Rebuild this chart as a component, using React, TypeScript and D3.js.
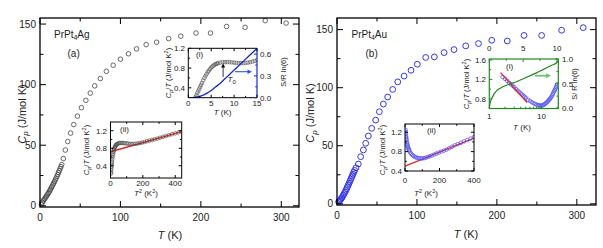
import React from 'react'
import * as d3 from 'd3'

const FONT = 'Liberation Sans, Arial, Helvetica, sans-serif'

// ---- main panel (a): PrPt4Ag, Cp vs T
const agT = [1.8, 3, 4, 5, 6, 7, 8, 9, 10, 11, 12, 13, 14, 15, 16, 17, 18, 19, 20, 21, 22, 23, 24, 25, 26, 27,
  29, 31.5, 34.5, 38, 42, 46.5, 51.5, 57, 62.5, 68, 75, 82.5, 91, 100, 110, 120, 132, 145, 160, 175,
  194, 212, 232, 255, 280, 306]
const agCp = [1.2, 2.8, 4, 5, 6, 7, 8, 9, 10, 11, 12.3, 13.5, 14.8, 16, 17.3, 18.6, 20, 21.4, 22.8, 24.3,
  25.8, 27.4, 29, 30.6, 32.3, 34, 39, 46, 53, 60, 67, 74, 81, 87, 93, 99, 105, 111, 116, 121,
  125.5, 129.5, 133, 135, 138, 140, 142.6, 142.6, 148, 147.3, 152.8, 150.8]

// ---- main panel (b): PrPt4Au, Cp vs T
const auT = [2, 3, 4, 5, 6, 7, 8, 9, 10, 11, 12, 13, 14, 15, 16, 17, 18, 19, 20, 21, 22,
  23.8, 26.7, 29.6, 33, 35.9, 39.2, 43.4, 48.4, 53, 58, 63.4, 69.7, 76, 83.9, 92.6, 100.5,
  111, 121.8, 134, 146.4, 161, 177, 193.6, 213, 234, 256, 281, 308]
const auCp = [1.8, 2.5, 3.3, 4.2, 5.2, 6.3, 7.5, 8.8, 10.1, 11.5, 13, 14.5, 16, 17.6, 19.2, 20.8, 22.4, 24, 25.6, 27.2, 28.8,
  31, 34.3, 40.6, 46.4, 52.1, 58.4, 65, 72.1, 79.3, 85.9, 92, 98.5, 105, 110, 115, 120.2,
  126, 126.5, 130.2, 132.8, 136, 138, 140.8, 140.2, 145, 145, 149.5, 151.7]

// ---- low T, Cp/T (insets)
const agLowT = [1.6, 1.8, 2, 2.2, 2.4, 2.6, 2.8, 3, 3.25, 3.5, 3.75, 4, 4.25, 4.5, 4.75, 5, 5.25, 5.5, 5.75, 6, 6.25, 6.5,
  7, 7.5, 8, 8.5, 9, 9.5, 10, 10.5, 11, 11.5, 12, 12.5, 13, 13.5, 14, 14.5, 15, 15.5, 16, 16.5, 17, 17.5, 18, 18.5, 19, 19.5, 20, 20.5, 21]
const agLowCT = [0.22, 0.25, 0.3, 0.34, 0.38, 0.42, 0.46, 0.5, 0.55, 0.6, 0.64, 0.68, 0.72, 0.75, 0.78, 0.81, 0.83, 0.85, 0.87, 0.88, 0.89, 0.9,
  0.91, 0.92, 0.92, 0.92, 0.92, 0.915, 0.91, 0.905, 0.9, 0.9, 0.9, 0.905, 0.91, 0.92, 0.93, 0.945, 0.96, 0.975, 0.99, 1.005, 1.02, 1.04, 1.06, 1.08, 1.1, 1.12, 1.14, 1.16, 1.18]
const agST = [0, 1, 2, 3, 4, 5, 6, 7, 8, 9, 10, 11, 12, 13, 14, 15]
const agS = [0, 0.002, 0.01, 0.03, 0.06, 0.1, 0.15, 0.2, 0.26, 0.32, 0.38, 0.44, 0.5, 0.56, 0.62, 0.68]
const agFitT2 = [0, 440]
const agFitCT = [0.72, 1.18]

const auLowT = [1.8, 2, 2.2, 2.4, 2.6, 2.8, 3, 3.25, 3.5, 3.75, 4, 4.25, 4.5, 4.75, 5,
  5.5, 6, 6.5, 7, 7.5, 8, 8.5, 9, 9.5, 10, 10.5, 11, 11.5, 12, 12.5, 13, 13.5, 14, 14.5, 15,
  15.5, 16, 16.5, 17, 17.5, 18, 18.5, 19, 19.5, 20]
const auLowCT = [1.25, 1.21, 1.17, 1.13, 1.1, 1.07, 1.04, 1.0, 0.97, 0.94, 0.91, 0.89, 0.86, 0.84, 0.82,
  0.78, 0.755, 0.73, 0.71, 0.695, 0.68, 0.67, 0.665, 0.66, 0.66, 0.665, 0.675, 0.69, 0.705, 0.72, 0.74, 0.76, 0.78, 0.8, 0.82,
  0.84, 0.87, 0.9, 0.93, 0.955, 0.98, 1.01, 1.04, 1.07, 1.1]
const auST = [0, 0.05, 0.1, 0.2, 0.3, 0.5, 0.8, 1.1, 1.5, 2, 3, 4, 5, 6, 7, 8, 9, 10, 10.2]
const auS = [0, 0.05, 0.1, 0.15, 0.19, 0.24, 0.31, 0.36, 0.4, 0.44, 0.49, 0.54, 0.6, 0.66, 0.72, 0.79, 0.86, 0.93, 0.96]
const auFitT = [1.65, 5.3]
const auFitCT = [1.34, 0.72]
const auFitT2 = [0, 400]
const auFitCT2 = [0.5, 1.08]

type Sc = (v: number) => number

function XTicks({ s, major, minor, y, dir, len = 6, mlen = 3.5, color = '#000', w = 1 }:
  { s: Sc; major: number[]; minor: number[]; y: number; dir: number; len?: number; mlen?: number; color?: string; w?: number }) {
  return (
    <g stroke={color} strokeWidth={w}>
      {major.map((v) => <line key={'M' + v} x1={s(v)} x2={s(v)} y1={y} y2={y + dir * len} />)}
      {minor.map((v) => <line key={'m' + v} x1={s(v)} x2={s(v)} y1={y} y2={y + dir * mlen} />)}
    </g>
  )
}

function YTicks({ s, major, minor, x, dir, len = 6, mlen = 3.5, color = '#000', w = 1 }:
  { s: Sc; major: number[]; minor: number[]; x: number; dir: number; len?: number; mlen?: number; color?: string; w?: number }) {
  return (
    <g stroke={color} strokeWidth={w}>
      {major.map((v) => <line key={'M' + v} y1={s(v)} y2={s(v)} x1={x} x2={x + dir * len} />)}
      {minor.map((v) => <line key={'m' + v} y1={s(v)} y2={s(v)} x1={x} x2={x + dir * mlen} />)}
    </g>
  )
}

function XLabels({ s, vals, y, fs, fmt }: { s: Sc; vals: number[]; y: number; fs: number; fmt?: (v: number) => string }) {
  return (
    <g fontSize={fs} fill="#222" textAnchor="middle">
      {vals.map((v) => <text key={v} x={s(v)} y={y}>{fmt ? fmt(v) : String(v)}</text>)}
    </g>
  )
}

function YLabels({ s, vals, x, fs, anchor, fmt }: { s: Sc; vals: number[]; x: number; fs: number; anchor: string; fmt?: (v: number) => string }) {
  return (
    <g fontSize={fs} fill="#222" textAnchor={anchor}>
      {vals.map((v) => <text key={v} x={x} y={s(v) + fs * 0.36}>{fmt ? fmt(v) : String(v)}</text>)}
    </g>
  )
}

const f1 = (v: number) => v.toFixed(1)

function CpLabel({ x, y, fs, text }: { x: number; y: number; fs: number; text: string }) {
  return (
    <text transform={`translate(${x},${y}) rotate(-90)`} textAnchor="middle" fontSize={fs} fill="#222">
      <tspan fontStyle="italic">C</tspan>
      <tspan fontStyle="italic" fontSize={fs * 0.72} dy={fs * 0.25}>p</tspan>
      <tspan dy={-fs * 0.25}>{text}</tspan>
    </text>
  )
}

function Arrow({ x1, y1, x2, y2, color, w, head }: { x1: number; y1: number; x2: number; y2: number; color: string; w: number; head: number }) {
  const a = Math.atan2(y2 - y1, x2 - x1)
  const p1 = [x2 - head * Math.cos(a) + head * 0.5 * Math.sin(a), y2 - head * Math.sin(a) - head * 0.5 * Math.cos(a)]
  const p2 = [x2 - head * Math.cos(a) - head * 0.5 * Math.sin(a), y2 - head * Math.sin(a) + head * 0.5 * Math.cos(a)]
  return (
    <g>
      <line x1={x1} y1={y1} x2={x2 - head * 0.8 * Math.cos(a)} y2={y2 - head * 0.8 * Math.sin(a)} stroke={color} strokeWidth={w} />
      <polygon points={`${x2},${y2} ${p1[0]},${p1[1]} ${p2[0]},${p2[1]}`} fill={color} />
    </g>
  )
}

export default function App() {
  // main scales
  const xA = d3.scaleLinear().domain([0, 322]).range([40, 299])
  const yA = d3.scaleLinear().domain([-1, 155]).range([207, 18])
  const xB = d3.scaleLinear().domain([0, 324]).range([337, 596])
  const yB = d3.scaleLinear().domain([-1, 160]).range([205, 18])

  // inset a(i)
  const xAi = d3.scaleLinear().domain([0, 15]).range([188.3, 257])
  const yAi = d3.scaleLinear().domain([0.2, 1.2]).range([97.7, 48.3])
  const yAiR = d3.scaleLinear().domain([0, 0.68]).range([97.7, 48.3])
  // inset a(ii)
  const xAii = d3.scaleLinear().domain([0, 440]).range([110.5, 181.7])
  const yAii = d3.scaleLinear().domain([0.12, 1.4]).range([178, 122])
  // inset b(i)
  const xBi = d3.scaleLog().domain([1, 21]).range([489.3, 558.3])
  const xBiTop = d3.scaleLinear().domain([0, 10.2]).range([489.3, 558.3])
  const yBi = d3.scaleLinear().domain([0.6, 1.62]).range([108.5, 59])
  const yBiR = d3.scaleLinear().domain([0, 1]).range([108.5, 59])
  // inset b(ii)
  const xBii = d3.scaleLinear().domain([0, 400]).range([405, 474])
  const yBii = d3.scaleLinear().domain([0.4, 1.37]).range([171, 124])

  const lineAS = d3.line<number>().x((_, i) => xAi(agST[i])).y((d) => yAiR(d)).curve(d3.curveMonotoneX)
  const lineBS = d3.line<number>().x((_, i) => xBiTop(auST[i])).y((d) => yBiR(d)).curve(d3.curveMonotoneX)

  const gray = '#444'
  const blue = '#3535f0'
  const green = '#1f8a1f'
  const red = '#e8221c'

  const frame = (x: Sc, y: Sc, color = '#000', w = 1.2) => {
    const [x0, x1] = (x as any).range()
    const [y0, y1] = (y as any).range()
    return <rect x={x0} y={y1} width={x1 - x0} height={y0 - y1} fill="none" stroke={color} strokeWidth={w} />
  }
  const bg = (x: Sc, y: Sc) => {
    const [x0, x1] = (x as any).range()
    const [y0, y1] = (y as any).range()
    return <rect x={x0} y={y1} width={x1 - x0} height={y0 - y1} fill="#fff" />
  }
  const clipRect = (id: string, x: Sc, y: Sc) => {
    const [x0, x1] = (x as any).range()
    const [y0, y1] = (y as any).range()
    return <clipPath id={id}><rect x={x0} y={y1} width={x1 - x0} height={y0 - y1} /></clipPath>
  }

  return (
    <svg width={603} height={248} style={{ position: 'absolute', left: 0, top: 0, fontFamily: FONT }}>
      <rect width={603} height={248} fill="#fff" />
      <defs>
        {clipRect('cAi', xAi, yAi)}
        {clipRect('cAii', xAii, yAii)}
        {clipRect('cBi', xBi as any, yBi)}
        {clipRect('cBii', xBii, yBii)}
      </defs>

      {/* ================= panel (a) ================= */}
      <g>
        {agT.map((t, i) => (
          <circle key={i} cx={xA(t)} cy={yA(agCp[i])} r={2.3} fill="none" stroke={gray} strokeWidth={0.8} />
        ))}
        {frame(xA, yA, '#000', 1.3)}
        <XTicks s={xA} major={[0, 100, 200, 300]} minor={[50, 150, 250]} y={207} dir={-1} />
        <XTicks s={xA} major={[0, 100, 200, 300]} minor={[50, 150, 250]} y={18} dir={1} />
        <YTicks s={yA} major={[0, 50, 100, 150]} minor={[25, 75, 125]} x={40} dir={1} />
        <YTicks s={yA} major={[0, 50, 100, 150]} minor={[25, 75, 125]} x={299} dir={-1} />
        <XLabels s={xA} vals={[0, 100, 200, 300]} y={220.5} fs={10} />
        <YLabels s={yA} vals={[0, 50, 100, 150]} x={36} fs={10} anchor="end" />
        <CpLabel x={25.5} y={114} fs={11} text=" (J/mol K)" />
        <text x={170} y={239} textAnchor="middle" fontSize={11} fill="#222">
          <tspan fontStyle="italic">T</tspan> (K)
        </text>
        <text x={54} y={37.5} fontSize={10} fill="#222">
          PrPt<tspan fontSize={7} dy={2.5}>4</tspan><tspan dy={-2.5}>Ag</tspan>
        </text>
        <text x={67.5} y={57} fontSize={10} fill="#222">(a)</text>

        {/* inset (i) */}
        {bg(xAi, yAi)}
        <g clipPath="url(#cAi)">
          {agLowT.filter((t) => t <= 15).map((t, i) => (
            <circle key={i} cx={xAi(t)} cy={yAi(agLowCT[i])} r={1.8} fill="none" stroke={gray} strokeWidth={0.6} />
          ))}
          <path d={lineAS(agS) ?? ''} fill="none" stroke="#1428d8" strokeWidth={1.3} />
        </g>
        <line x1={188.3} x2={257} y1={48.3} y2={48.3} stroke="#000" strokeWidth={1} />
        <line x1={188.3} x2={257} y1={97.7} y2={97.7} stroke="#000" strokeWidth={1} />
        <line x1={188.3} x2={188.3} y1={48.3} y2={97.7} stroke="#000" strokeWidth={1} />
        <line x1={257} x2={257} y1={48.3} y2={97.7} stroke="#1428d8" strokeWidth={1.2} />
        <XTicks s={xAi} major={[0, 5, 10, 15]} minor={[2.5, 7.5, 12.5]} y={97.7} dir={-1} len={3} mlen={1.8} />
        <XTicks s={xAi} major={[0, 5, 10, 15]} minor={[2.5, 7.5, 12.5]} y={48.3} dir={1} len={3} mlen={1.8} />
        <YTicks s={yAi} major={[0.4, 0.8, 1.2]} minor={[0.6, 1.0]} x={188.3} dir={1} len={3} mlen={1.8} />
        <YTicks s={yAiR} major={[0, 0.3, 0.6]} minor={[0.15, 0.45]} x={257} dir={-1} len={3} mlen={1.8} color="#1428d8" />
        <XLabels s={xAi} vals={[0, 5, 10, 15]} y={105.5} fs={8} />
        <YLabels s={yAi} vals={[0.4, 0.8, 1.2]} x={185} fs={8} anchor="end" fmt={f1} />
        <YLabels s={yAiR} vals={[0, 0.3, 0.6]} x={260} fs={8} anchor="start" fmt={f1} />
        <text x={222.6} y={114.5} textAnchor="middle" fontSize={8} fill="#222">
          <tspan fontStyle="italic">T</tspan> (K)
        </text>
        <text transform="translate(171,73) rotate(-90)" textAnchor="middle" fontSize={7.5} fill="#222">
          <tspan fontStyle="italic">C</tspan><tspan fontStyle="italic" fontSize={5.5} dy={2}>p</tspan>
          <tspan dy={-2}>/</tspan><tspan fontStyle="italic">T</tspan> (J/mol K<tspan fontSize={5.5} dy={-3}>2</tspan><tspan dy={3}>)</tspan>
        </text>
        <text transform="translate(285.5,72) rotate(-90)" textAnchor="middle" fontSize={7.5} fill="#222">S/R ln(6)</text>
        <text x={196} y={56.5} fontSize={8} fill="#222">(i)</text>
        <Arrow x1={xAi(7.6)} y1={77} x2={xAi(7.6)} y2={63.5} color="#000" w={0.8} head={4} />
        <text x={227.5} y={82} fontSize={8} fill="#222">
          <tspan fontStyle="italic">T</tspan><tspan fontSize={6} dy={2}>0</tspan>
        </text>
        <Arrow x1={235} y1={71.7} x2={252} y2={71.7} color="#3050f0" w={1.1} head={4.5} />

        {/* inset (ii) */}
        {bg(xAii, yAii)}
        <g clipPath="url(#cAii)">
          <path d={`M${xAii(agFitT2[0])},${yAii(agFitCT[0])}L${xAii(agFitT2[1])},${yAii(agFitCT[1])}`} stroke={red} strokeWidth={1.3} />
          {agLowT.map((t, i) => (
            <circle key={i} cx={xAii(t * t)} cy={yAii(agLowCT[i])} r={1.8} fill="none" stroke={gray} strokeWidth={0.6} />
          ))}
        </g>
        {frame(xAii, yAii, '#000', 1)}
        <XTicks s={xAii} major={[0, 200, 400]} minor={[100, 300]} y={178} dir={-1} len={3} mlen={1.8} />
        <XTicks s={xAii} major={[0, 200, 400]} minor={[100, 300]} y={122} dir={1} len={3} mlen={1.8} />
        <YTicks s={yAii} major={[0.4, 0.8, 1.2]} minor={[0.6, 1.0]} x={110.5} dir={1} len={3} mlen={1.8} />
        <YTicks s={yAii} major={[0.4, 0.8, 1.2]} minor={[0.6, 1.0]} x={181.7} dir={-1} len={3} mlen={1.8} />
        <XLabels s={xAii} vals={[0, 200, 400]} y={185.5} fs={8} />
        <YLabels s={yAii} vals={[0.4, 0.8, 1.2]} x={107} fs={8} anchor="end" fmt={f1} />
        <text x={146} y={195.5} textAnchor="middle" fontSize={8} fill="#222">
          <tspan fontStyle="italic">T</tspan><tspan fontSize={5.5} dy={-3}>2</tspan><tspan dy={3}> (K</tspan><tspan fontSize={5.5} dy={-3}>2</tspan><tspan dy={3}>)</tspan>
        </text>
        <text transform="translate(89,150) rotate(-90)" textAnchor="middle" fontSize={7.5} fill="#222">
          <tspan fontStyle="italic">C</tspan><tspan fontStyle="italic" fontSize={5.5} dy={2}>p</tspan>
          <tspan dy={-2}>/</tspan><tspan fontStyle="italic">T</tspan> (J/mol K<tspan fontSize={5.5} dy={-3}>2</tspan><tspan dy={3}>)</tspan>
        </text>
        <text x={120} y={132} fontSize={8} fill="#222">(ii)</text>
      </g>

      {/* ================= panel (b) ================= */}
      <g>
        {auT.map((t, i) => (
          <circle key={i} cx={xB(t)} cy={yB(auCp[i])} r={2.9} fill="none" stroke={blue} strokeWidth={1} />
        ))}
        {frame(xB, yB, '#000', 1.3)}
        <XTicks s={xB} major={[0, 100, 200, 300]} minor={[50, 150, 250]} y={205} dir={-1} />
        <XTicks s={xB} major={[0, 100, 200, 300]} minor={[50, 150, 250]} y={18} dir={1} />
        <YTicks s={yB} major={[0, 50, 100, 150]} minor={[25, 75, 125]} x={337} dir={1} />
        <YTicks s={yB} major={[0, 50, 100, 150]} minor={[25, 75, 125]} x={596} dir={-1} />
        <XLabels s={xB} vals={[0, 100, 200, 300]} y={218.5} fs={10} />
        <YLabels s={yB} vals={[0, 50, 100, 150]} x={333} fs={10} anchor="end" />
        <CpLabel x={314} y={113} fs={11} text=" (J/mol K)" />
        <text x={466} y={237.5} textAnchor="middle" fontSize={11} fill="#222">
          <tspan fontStyle="italic">T</tspan> (K)
        </text>
        <text x={351.5} y={37.5} fontSize={10} fill="#222">
          PrPt<tspan fontSize={7} dy={2.5}>4</tspan><tspan dy={-2.5}>Au</tspan>
        </text>
        <text x={365.5} y={57} fontSize={10} fill="#222">(b)</text>

        {/* inset (i) */}
        {bg(xBi as any, yBi)}
        <g clipPath="url(#cBi)">
          {auLowT.map((t, i) => (
            <circle key={i} cx={xBi(t)} cy={yBi(auLowCT[i])} r={1.8} fill="none" stroke="#4a4aff" strokeWidth={0.7} />
          ))}
          <path d={`M${xBi(auFitT[0])},${yBi(auFitCT[0])}L${xBi(auFitT[1])},${yBi(auFitCT[1])}`} stroke={red} strokeWidth={1.3} />
          <path d={lineBS(auS) ?? ''} fill="none" stroke={green} strokeWidth={1.2} />
        </g>
        <rect x={489.3} y={59} width={69} height={49.5} fill="none" stroke={green} strokeWidth={1.2} />
        <XTicks s={xBi as any} major={[1, 10]} minor={[2, 3, 4, 5, 6, 7, 8, 9, 20]} y={108.5} dir={-1} len={3} mlen={1.8} color={green} />
        <XTicks s={xBiTop} major={[0, 5, 10]} minor={[2.5, 7.5]} y={59} dir={1} len={3} mlen={1.8} color={green} />
        <YTicks s={yBi} major={[0.8, 1.2, 1.6]} minor={[1.0, 1.4]} x={489.3} dir={1} len={3} mlen={1.8} color={green} />
        <YTicks s={yBiR} major={[0, 0.5, 1]} minor={[0.25, 0.75]} x={558.3} dir={-1} len={3} mlen={1.8} color={green} />
        <XLabels s={xBi as any} vals={[1, 10]} y={118.5} fs={8} />
        <XLabels s={xBiTop} vals={[0, 5, 10]} y={50.5} fs={8} />
        <YLabels s={yBi} vals={[0.8, 1.2, 1.6]} x={486} fs={8} anchor="end" fmt={f1} />
        <YLabels s={yBiR} vals={[0, 0.5, 1]} x={562} fs={8} anchor="start" fmt={f1} />
        <text x={522} y={130} textAnchor="middle" fontSize={8} fill="#222">
          <tspan fontStyle="italic">T</tspan> (K)
        </text>
        <text transform="translate(469,84) rotate(-90)" textAnchor="middle" fontSize={7.5} fill="#222">
          <tspan fontStyle="italic">C</tspan><tspan fontStyle="italic" fontSize={5.5} dy={2}>p</tspan>
          <tspan dy={-2}>/</tspan><tspan fontStyle="italic">T</tspan> (J/mol K<tspan fontSize={5.5} dy={-3}>2</tspan><tspan dy={3}>)</tspan>
        </text>
        <text transform="translate(577,84) rotate(-90)" textAnchor="middle" fontSize={7.5} fill="#222">S/ R ln(6)</text>
        <text x={506} y={69} fontSize={8} fill="#222">(i)</text>
        <Arrow x1={535} y1={75.7} x2={551} y2={75.7} color="#6fc06f" w={1.8} head={5} />

        {/* inset (ii) */}
        {bg(xBii, yBii)}
        <g clipPath="url(#cBii)">
          <path d={`M${xBii(auFitT2[0])},${yBii(auFitCT2[0])}L${xBii(auFitT2[1])},${yBii(auFitCT2[1])}`} stroke={red} strokeWidth={1.3} />
          {auLowT.map((t, i) => (
            <circle key={i} cx={xBii(t * t)} cy={yBii(auLowCT[i])} r={1.8} fill="none" stroke="#4a4aff" strokeWidth={0.7} />
          ))}
        </g>
        {frame(xBii, yBii, '#000', 1)}
        <XTicks s={xBii} major={[0, 200, 400]} minor={[100, 300]} y={171} dir={-1} len={3} mlen={1.8} />
        <XTicks s={xBii} major={[0, 200, 400]} minor={[100, 300]} y={124} dir={1} len={3} mlen={1.8} />
        <YTicks s={yBii} major={[0.4, 0.8, 1.2]} minor={[0.6, 1.0]} x={405} dir={1} len={3} mlen={1.8} />
        <YTicks s={yBii} major={[0.4, 0.8, 1.2]} minor={[0.6, 1.0]} x={474} dir={-1} len={3} mlen={1.8} />
        <XLabels s={xBii} vals={[0, 200, 400]} y={183} fs={8} />
        <YLabels s={yBii} vals={[0.4, 0.8, 1.2]} x={402} fs={8} anchor="end" fmt={f1} />
        <text x={426} y={196} textAnchor="middle" fontSize={8} fill="#222">
          <tspan fontStyle="italic">T</tspan><tspan fontSize={5.5} dy={-3}>2</tspan><tspan dy={3}> (K</tspan><tspan fontSize={5.5} dy={-3}>2</tspan><tspan dy={3}>)</tspan>
        </text>
        <text transform="translate(385,150) rotate(-90)" textAnchor="middle" fontSize={7.5} fill="#222">
          <tspan fontStyle="italic">C</tspan><tspan fontStyle="italic" fontSize={5.5} dy={2}>p</tspan>
          <tspan dy={-2}>/</tspan><tspan fontStyle="italic">T</tspan> (J/mol K<tspan fontSize={5.5} dy={-3}>2</tspan><tspan dy={3}>)</tspan>
        </text>
        <text x={427} y={133} fontSize={8} fill="#222">(ii)</text>
      </g>
    </svg>
  )
}
